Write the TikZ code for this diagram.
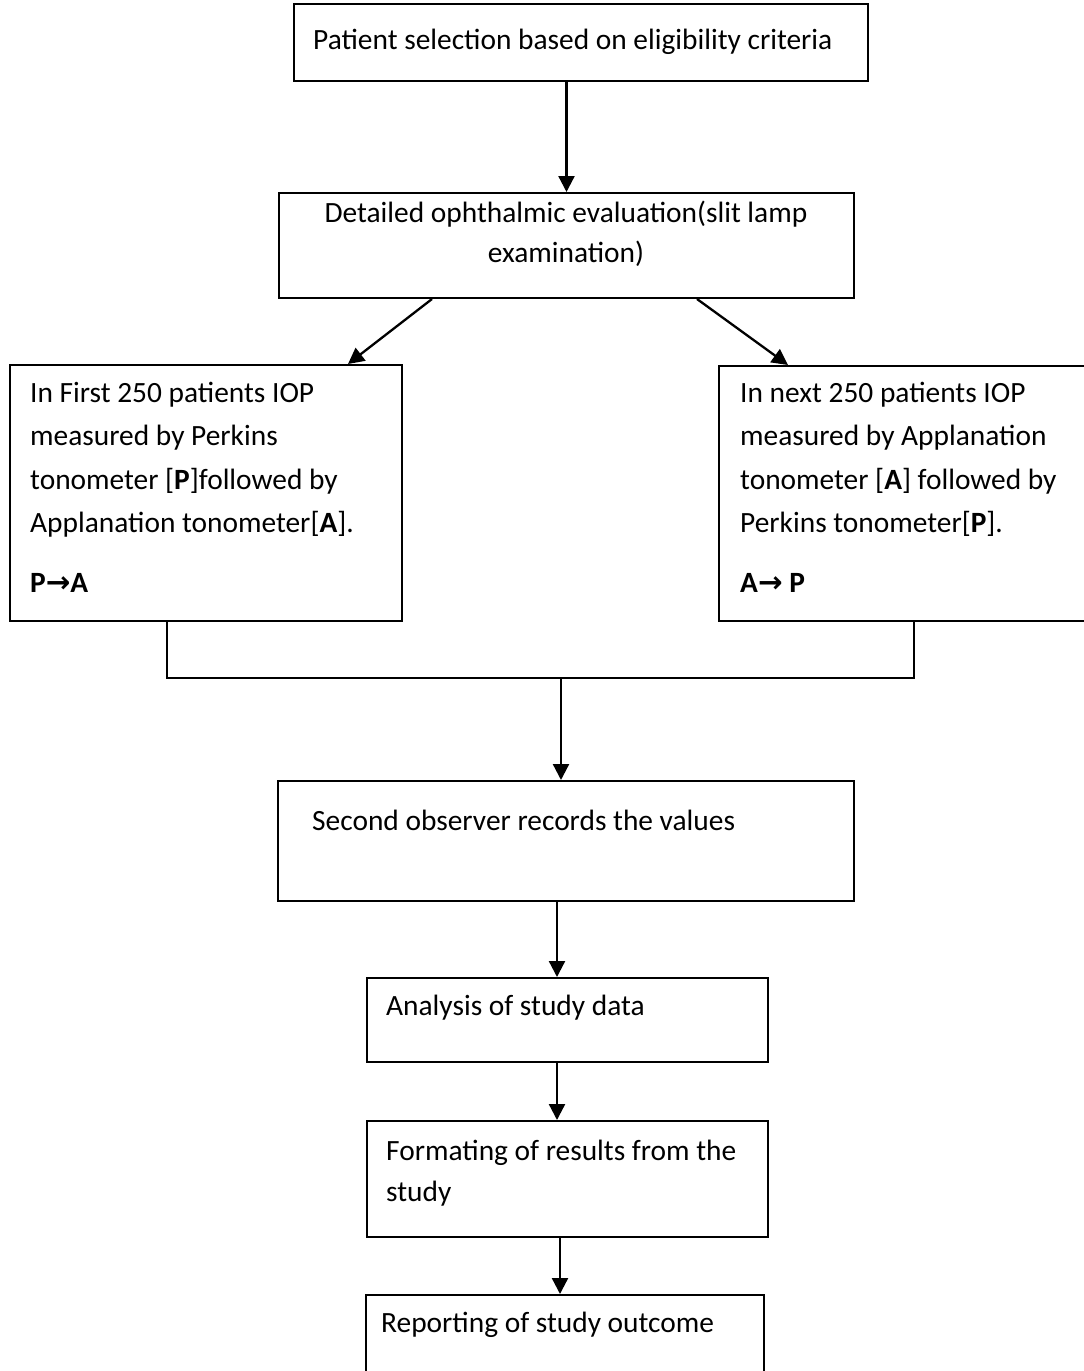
\documentclass[tikz,border=0pt]{standalone}
\usepackage{fontspec}
\setmainfont{Carlito}
\newfontfamily\arrowfont{DejaVu Sans}
\usetikzlibrary{arrows.meta}
\begin{document}
\begin{tikzpicture}[x=1pt,y=-1pt,
  box/.style={draw, line width=2pt, rectangle, inner sep=0pt, anchor=north west},
  txt/.style={anchor=base west, inner sep=0pt, font=\fontsize{29.4}{43.5}\selectfont},
  ctxt/.style={txt, anchor=base},
  conn/.style={line width=2.3pt},
  arr/.style={conn, -{Triangle[width=16pt,length=16pt]}}]
\useasboundingbox (0,0) rectangle (1084,1371);
% boxes
\node[box, minimum width=574pt, minimum height=77pt] (b1) at (293,3) {};
\node[box, minimum width=575pt, minimum height=105pt] (b2) at (278,192) {};
\node[box, minimum width=392pt, minimum height=256pt] (bl) at (9,364) {};
\node[box, minimum width=372pt, minimum height=255pt] (br) at (718,365) {};
\node[box, minimum width=576pt, minimum height=120pt] (sec) at (277,780) {};
\node[box, minimum width=401pt, minimum height=84pt] (ana) at (366,977) {};
\node[box, minimum width=401pt, minimum height=116pt] (fmt) at (366,1120) {};
\node[box, minimum width=398pt, minimum height=100pt] (rep) at (365,1294) {};
% texts
\node[txt] (t1) at (313,49) {Patient selection based on eligibility criteria};
\node[ctxt] (t2a) at (566,222) {Detailed ophthalmic evaluation(slit lamp};
\node[ctxt] (t2b) at (566,262) {examination)};
\node[txt] (l1) at (30,402) {In First 250 patients IOP};
\node[txt] (l2) at (30,445.5) {measured by Perkins};
\node[txt] (l3) at (30,489) {tonometer [\textbf{P}]followed by};
\node[txt] (l4) at (30,532.5) {Applanation tonometer[\textbf{A}].};
\node[txt] (l5) at (30,592) {\textbf{P{\arrowfont\bfseries →}A}};
\node[txt] (r1) at (740,402) {In next 250 patients IOP};
\node[txt] (r2) at (740,445.5) {measured by Applanation};
\node[txt] (r3) at (740,489) {tonometer [\textbf{A}] followed by};
\node[txt] (r4) at (740,532.5) {Perkins tonometer[\textbf{P}].};
\node[txt] (r5) at (740,592) {\textbf{A{\arrowfont\bfseries →} P}};
\node[txt] (ts) at (312,830) {Second observer records the values};
\node[txt] (ta) at (386,1015) {Analysis of study data};
\node[txt] (tf1) at (386,1160) {Formating of results from the};
\node[txt] (tf2) at (386,1201) {study};
\node[txt] (tr) at (381,1332) {Reporting of study outcome};
% connectors
\draw[arr] (b2.north |- b1.south) -- (b2.north);
\coordinate (p1) at ([xshift=154pt]b2.south west);
\coordinate (q1) at ([xshift=339pt]bl.north west);
\draw[arr] (p1) -- (q1);
\coordinate (p2) at ([xshift=419pt]b2.south west);
\coordinate (q2) at ([xshift=70pt]br.north west);
\draw[arr] (p2) -- (q2);
\coordinate (jl) at ([xshift=158pt]bl.south west);
\coordinate (jr) at ([xshift=196pt]br.south west);
\coordinate (j) at (561,678);
\draw[conn] (jl) |- (j) -| (jr);
\draw[arr] (j) -- (j |- sec.north);
\coordinate (a1) at ([xshift=191pt]ana.north west);
\draw[arr] (sec.south -| a1) -- (a1);
\coordinate (a2) at ([xshift=191pt]fmt.north west);
\draw[arr] (ana.south -| a2) -- (a2);
\coordinate (a3) at ([xshift=195pt]rep.north west);
\draw[arr] (fmt.south -| a3) -- (a3);
\end{tikzpicture}
\end{document}
